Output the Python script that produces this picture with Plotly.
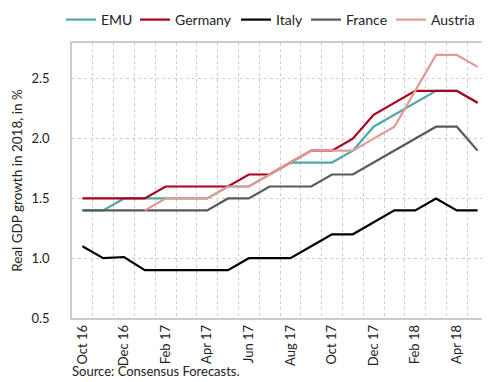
import plotly.graph_objects as go

months = ["Oct 16", "Nov 16", "Dec 16", "Jan 17", "Feb 17", "Mar 17", "Apr 17", "May 17",
          "Jun 17", "Jul 17", "Aug 17", "Sep 17", "Oct 17", "Nov 17", "Dec 17", "Jan 18",
          "Feb 18", "Mar 18", "Apr 18", "May 18"]

emu = [1.4, 1.4, 1.5, 1.5, 1.5, 1.5, 1.5, 1.6, 1.6, 1.7, 1.8, 1.8, 1.8, 1.9, 2.1, 2.2, 2.3, 2.4, 2.4, 2.3]
germany = [1.5, 1.5, 1.5, 1.5, 1.6, 1.6, 1.6, 1.6, 1.7, 1.7, 1.8, 1.9, 1.9, 2.0, 2.2, 2.3, 2.4, 2.4, 2.4, 2.3]
italy = [1.1, 1.0, 1.01, 0.9, 0.9, 0.9, 0.9, 0.9, 1.0, 1.0, 1.0, 1.1, 1.2, 1.2, 1.3, 1.4, 1.4, 1.5, 1.4, 1.4]
france = [1.4, 1.4, 1.4, 1.4, 1.4, 1.4, 1.4, 1.5, 1.5, 1.6, 1.6, 1.6, 1.7, 1.7, 1.8, 1.9, 2.0, 2.1, 2.1, 1.9]
austria = [None, None, None, 1.4, 1.5, 1.5, 1.5, 1.6, 1.6, 1.7, 1.8, 1.9, 1.9, 1.9, 2.0, 2.1, 2.4, 2.7, 2.7, 2.6]

series = [
    ("EMU", emu, "#4fa9a6"),
    ("Germany", germany, "#a8001e"),
    ("Italy", italy, "#000000"),
    ("France", france, "#595959"),
    ("Austria", austria, "#e39a97"),
]

y_ticks = [0.5, 1.0, 1.5, 2.0, 2.5]

x = list(range(len(months)))

# legend entry left edges (px in the 490-wide container)
legend_left_px = [68, 142, 243, 313, 398]

W, H = 490, 382
font_family = "Lato, Noto Sans, sans-serif"

fig = go.Figure()
legend_layouts = {}
for i, ((name, vals, color), lx) in enumerate(zip(series, legend_left_px)):
    key = "legend" if i == 0 else f"legend{i + 1}"
    fig.add_trace(go.Scatter(x=x, y=vals, name=name, mode="lines", legend=key,
                             line=dict(color=color, width=2.2)))
    legend_layouts[key] = dict(
        orientation="h", xref="container", yref="container",
        x=(lx - 15) / W, xanchor="left", y=1 - 12 / H, yanchor="middle",
        font=dict(size=14, color="#222"), itemwidth=30,
        bgcolor="rgba(0,0,0,0)", borderwidth=0,
    )

fig.update_layout(
    width=W, height=H,
    margin=dict(l=64, r=10, t=35, b=72, autoexpand=False),
    paper_bgcolor="white", plot_bgcolor="white",
    font=dict(family=font_family, size=13, color="#222"),
    showlegend=True,
    **legend_layouts,
)

fig.update_xaxes(
    range=[-0.5, len(months) - 0.5],
    tickmode="array", tickvals=x[::2], ticktext=months[::2],
    tickangle=-90, showgrid=False, zeroline=False,
    showline=True, linecolor="#cccccc", linewidth=1.5, mirror=True,
    ticks="", tickfont=dict(size=13, color="#222"),
    minor=dict(tickmode="linear", tick0=0.5, dtick=1, showgrid=True,
               gridcolor="#cfcfcf", griddash="dot", gridwidth=1),
)
fig.update_yaxes(
    range=[0.5, 2.8],
    tickmode="array", tickvals=y_ticks, ticktext=[f"{v:.1f}" for v in y_ticks],
    showgrid=True, gridcolor="#cfcfcf", griddash="dot", gridwidth=1,
    zeroline=False, showline=True, linecolor="#cccccc", linewidth=1.5, mirror=True,
    ticks="", ticklabelstandoff=18,
    tickfont=dict(size=13, color="#222"),
    title=dict(text="Real GDP growth in 2018, in %", font=dict(size=13.5, color="#222"), standoff=6),
)

fig.add_annotation(text="Source: Consensus Forecasts.", xref="paper", yref="paper",
                   x=0, y=-0.155, xanchor="left", yanchor="top", showarrow=False,
                   font=dict(size=13, color="#222"), xshift=-2)

fig.write_html("out.html")
